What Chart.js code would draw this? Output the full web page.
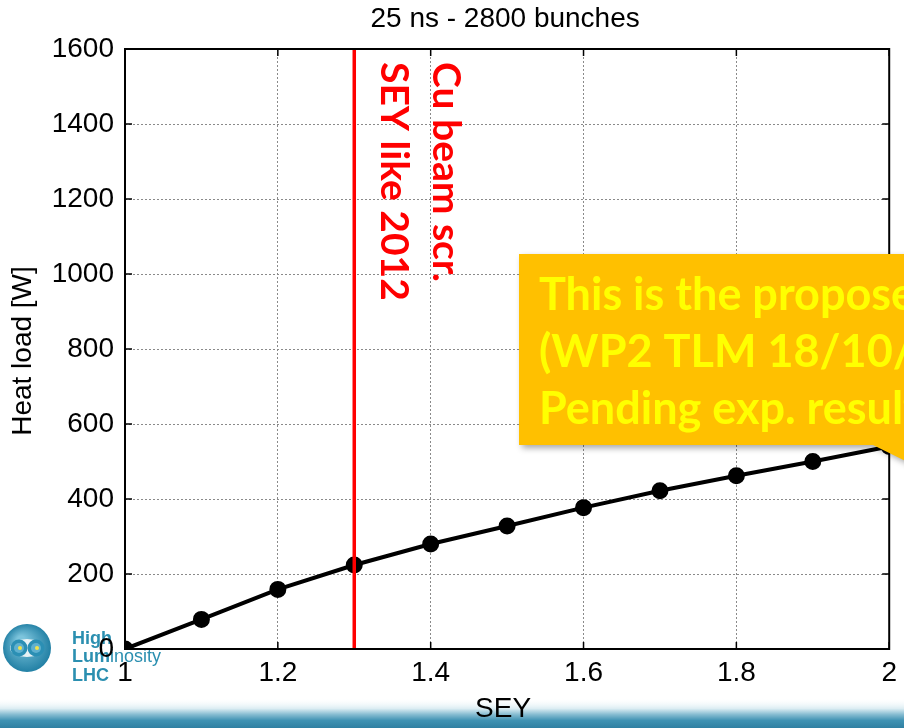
<!DOCTYPE html>
<html lang="en">
<head>
<meta charset="UTF-8">
<title>Heat load vs SEY</title>
<script src="https://cdn.jsdelivr.net/npm/chart.js"></script>
<style>
    body { margin: 0; background: #fff; }
    #wrap { width: 904px; height: 728px; }
</style>
</head>
<body>
<div id="wrap"><canvas id="heatChart" width="904" height="728"></canvas></div>
<script>
// SEY scan, heat load in W (25 ns, 2800 bunches)
const sey = [1.0, 1.1, 1.2, 1.3, 1.4, 1.5, 1.6, 1.7, 1.8, 1.9, 2.0];
const heatLoad = [0, 79, 159, 224, 280, 328, 377, 422, 462, 500, 540];

const xTicks = [1, 1.2, 1.4, 1.6, 1.8, 2];
const xTickLabels = ['1', '1.2', '1.4', '1.6', '1.8', '2'];
const yTicks = [0, 200, 400, 600, 800, 1000, 1200, 1400, 1600];
const yTickLabels = ['0', '200', '400', '600', '800', '1000', '1200', '1400', '1600'];

const titleText = '25 ns - 2800 bunches';
const xTitle = 'SEY';
const yTitle = 'Heat load [W]';

// vertical marker (Cu beam screen, SEY like 2012)
const markerSey = 1.3;
const markerLabels = ['Cu beam scr.', 'SEY like 2012'];
const calloutLines = ['This is the proposed baseline', '(WP2 TLM 18/10/13)', 'Pending exp. results'];

const axisFont = '"Liberation Sans", Arial, sans-serif';
const calibriLike = 'Lato, "Open Sans", sans-serif';

function drawLogo(ctx) {
    const cx = 27, cy = 648;
    const g = ctx.createRadialGradient(cx - 6, cy - 8, 4, cx, cy, 25);
    g.addColorStop(0, '#7cc4dc');
    g.addColorStop(1, '#1f7ea3');
    ctx.fillStyle = g;
    ctx.beginPath(); ctx.arc(cx, cy, 24, 0, Math.PI * 2); ctx.fill();
    ctx.fillStyle = '#e8f2f5';
    ctx.beginPath(); ctx.ellipse(cx, cy, 17, 9, 0, 0, Math.PI * 2); ctx.fill();
    [cx - 8, cx + 9].forEach(ex => {
        ctx.fillStyle = '#2b8fb4';
        ctx.beginPath(); ctx.arc(ex, cy, 8.5, 0, Math.PI * 2); ctx.fill();
        ctx.fillStyle = '#5fb0cf';
        ctx.beginPath(); ctx.arc(ex, cy, 5, 0, Math.PI * 2); ctx.fill();
        ctx.fillStyle = '#f2e34a';
        ctx.beginPath(); ctx.arc(ex + 1, cy, 2, 0, Math.PI * 2); ctx.fill();
    });
    ctx.fillStyle = '#2b8fb0';
    ctx.textAlign = 'left';
    ctx.textBaseline = 'alphabetic';
    ctx.font = 'bold 18px ' + axisFont;
    ctx.fillText('High', 72, 644);
    ctx.fillText('Lum', 72, 662);
    const w = ctx.measureText('Lum').width;
    ctx.font = '18px ' + axisFont;
    ctx.fillText('inosity', 72 + w, 662);
    ctx.font = 'bold 18px ' + axisFont;
    ctx.fillText('LHC', 72, 681);
}

const decor = {
    id: 'decor',
    beforeDraw(chart) {
        const ctx = chart.ctx;
        ctx.save();
        ctx.fillStyle = '#fff';
        ctx.fillRect(0, 0, chart.width, chart.height);
        // slide footer band
        const g = ctx.createLinearGradient(0, 698, 0, 728);
        g.addColorStop(0, 'rgba(255,255,255,0)');
        g.addColorStop(0.35, '#dcedf3');
        g.addColorStop(0.55, '#86bcd1');
        g.addColorStop(0.75, '#3f92b3');
        g.addColorStop(1, '#2f80a2');
        ctx.fillStyle = g;
        ctx.fillRect(0, 698, chart.width, 30);
        drawLogo(ctx);
        ctx.restore();
    },
    afterDatasetsDraw(chart) {
        const { ctx, chartArea: a, scales: { x, y } } = chart;
        ctx.save();
        const px = x.getPixelForValue(markerSey);
        ctx.strokeStyle = '#ff0000';
        ctx.lineWidth = 3.5;
        ctx.beginPath(); ctx.moveTo(px, a.top); ctx.lineTo(px, a.bottom); ctx.stroke();

        // axes box with inward ticks
        ctx.strokeStyle = '#000';
        ctx.lineWidth = 2;
        ctx.strokeRect(a.left, a.top, a.right - a.left, a.bottom - a.top);
        ctx.lineWidth = 1.5;
        ctx.beginPath();
        xTicks.forEach(v => {
            const p = x.getPixelForValue(v);
            ctx.moveTo(p, a.bottom); ctx.lineTo(p, a.bottom - 7);
            ctx.moveTo(p, a.top); ctx.lineTo(p, a.top + 7);
        });
        yTicks.forEach(v => {
            const p = y.getPixelForValue(v);
            ctx.moveTo(a.left, p); ctx.lineTo(a.left + 7, p);
            ctx.moveTo(a.right, p); ctx.lineTo(a.right - 7, p);
        });
        ctx.stroke();

        // rotated marker labels
        ctx.fillStyle = '#ff0000';
        ctx.font = 'bold 39px ' + calibriLike;
        ctx.textAlign = 'left';
        ctx.textBaseline = 'alphabetic';
        [[px + 79, markerLabels[0]], [px + 27, markerLabels[1]]].forEach(([bx, t]) => {
            ctx.save();
            ctx.translate(bx, a.top + 13);
            ctx.rotate(Math.PI / 2);
            ctx.fillText(t, 0, 0);
            ctx.restore();
        });
        ctx.restore();
    },
    afterDraw(chart) {
        const { ctx, chartArea: a } = chart;
        ctx.save();
        ctx.fillStyle = '#000';
        ctx.textAlign = 'center';
        ctx.textBaseline = 'middle';
        ctx.font = '28px ' + axisFont;
        ctx.fillText(titleText, (a.left + a.right) / 2 - 2, 19);
        ctx.fillText(xTitle, (a.left + a.right) / 2 - 4, 709);
        ctx.save();
        ctx.translate(23, 351);
        ctx.rotate(-Math.PI / 2);
        ctx.fillText(yTitle, 0, 0);
        ctx.restore();

        // callout box
        ctx.save();
        ctx.shadowColor = 'rgba(0,0,0,0.35)';
        ctx.shadowBlur = 6;
        ctx.shadowOffsetX = 3;
        ctx.shadowOffsetY = 3;
        ctx.fillStyle = '#ffc000';
        ctx.beginPath();
        ctx.moveTo(519, 254);
        ctx.lineTo(chart.width + 20, 254);
        ctx.lineTo(chart.width + 20, 470);
        ctx.lineTo(873, 445);
        ctx.lineTo(519, 445);
        ctx.closePath();
        ctx.fill();
        ctx.restore();
        ctx.fillStyle = '#ffff00';
        ctx.font = 'bold 45px ' + calibriLike;
        ctx.textAlign = 'left';
        ctx.textBaseline = 'alphabetic';
        calloutLines.forEach((t, i) => ctx.fillText(t, 539, 310 + i * 57));
        ctx.restore();
    }
};

new Chart(document.getElementById('heatChart'), {
    type: 'line',
    data: {
        datasets: [{
            data: sey.map((s, i) => ({ x: s, y: heatLoad[i] })),
            borderColor: '#000',
            backgroundColor: '#000',
            borderWidth: 4,
            pointRadius: 6.5,
            pointHoverRadius: 6.5,
            tension: 0
        }]
    },
    options: {
        responsive: false,
        animation: false,
        devicePixelRatio: 1,
        layout: { padding: { top: 49, right: 12, left: 0, bottom: 0 } },
        plugins: { legend: { display: false }, tooltip: { enabled: false } },
        scales: {
            x: {
                type: 'linear', min: 1, max: 2,
                afterBuildTicks: s => { s.ticks = xTicks.map(v => ({ value: v })); },
                afterFit: s => { s.height = 79; },
                ticks: {
                    callback: v => xTickLabels[xTicks.indexOf(v)],
                    color: '#000', font: { family: axisFont, size: 28 },
                    padding: 7, maxRotation: 0, autoSkip: false
                },
                grid: { color: '#8a8a8a', lineWidth: 1, drawTicks: false },
                border: { display: false, dash: [2, 2] }
            },
            y: {
                type: 'linear', min: 0, max: 1600,
                afterBuildTicks: s => { s.ticks = yTicks.map(v => ({ value: v })); },
                afterFit: s => { s.width = 125; },
                ticks: {
                    callback: v => yTickLabels[yTicks.indexOf(v)],
                    color: '#000', font: { family: axisFont, size: 28 },
                    padding: 11, autoSkip: false
                },
                grid: { color: '#8a8a8a', lineWidth: 1, drawTicks: false },
                border: { display: false, dash: [2, 2] }
            }
        }
    },
    plugins: [decor]
});
</script>
</body>
</html>
